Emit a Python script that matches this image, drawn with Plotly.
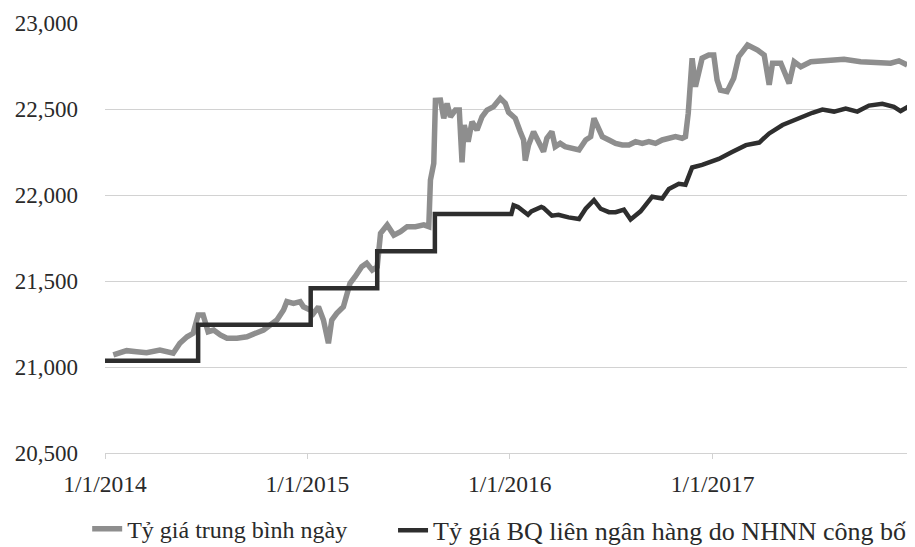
import plotly.graph_objects as go

# ---- data ----
avg_dates = [
    "2014-01-16", "2014-01-28", "2014-02-09", "2014-02-27", "2014-03-17", "2014-04-10",
    "2014-04-22", "2014-05-04", "2014-05-16", "2014-05-29", "2014-06-09", "2014-06-18",
    "2014-06-27", "2014-07-06", "2014-07-16", "2014-07-28", "2014-08-09", "2014-08-27",
    "2014-09-14", "2014-10-02", "2014-10-14", "2014-10-26", "2014-11-07", "2014-11-19",
    "2014-11-25", "2014-12-07", "2014-12-19", "2014-12-25", "2015-01-01", "2015-01-07",
    "2015-01-12", "2015-01-21", "2015-01-30", "2015-02-08", "2015-02-14", "2015-02-23",
    "2015-03-07", "2015-03-13", "2015-03-19", "2015-03-28", "2015-04-09", "2015-04-18",
    "2015-04-28", "2015-05-07", "2015-05-13", "2015-05-25", "2015-06-06", "2015-06-18",
    "2015-06-30", "2015-07-15", "2015-07-30", "2015-08-08", "2015-08-11", "2015-08-17",
    "2015-08-20", "2015-08-29", "2015-09-04", "2015-09-10", "2015-09-16", "2015-09-25",
    "2015-10-02", "2015-10-07", "2015-10-11", "2015-10-18", "2015-10-25", "2015-11-03",
    "2015-11-12", "2015-11-21", "2015-12-03", "2015-12-15", "2015-12-24", "2015-12-30",
    "2016-01-11", "2016-01-20", "2016-01-26", "2016-01-29", "2016-02-04", "2016-02-13",
    "2016-02-22", "2016-03-02", "2016-03-08", "2016-03-17", "2016-03-23", "2016-04-01",
    "2016-04-10", "2016-04-23", "2016-05-05", "2016-05-17", "2016-05-26", "2016-06-01",
    "2016-06-07", "2016-06-16", "2016-06-28", "2016-07-10", "2016-07-22", "2016-08-03",
    "2016-08-15", "2016-08-27", "2016-09-08", "2016-09-20", "2016-10-02", "2016-10-14",
    "2016-10-26", "2016-11-07", "2016-11-13", "2016-11-18", "2016-11-22", "2016-11-25",
    "2016-12-01", "2016-12-13", "2016-12-25", "2017-01-03", "2017-01-09", "2017-01-15",
    "2017-01-27", "2017-02-08", "2017-02-17", "2017-03-05", "2017-03-23", "2017-04-04",
    "2017-04-13", "2017-04-19", "2017-05-04", "2017-05-19", "2017-05-28", "2017-06-09",
    "2017-06-27", "2017-07-27", "2017-08-26", "2017-09-25", "2017-10-25", "2017-11-18",
    "2017-12-03", "2017-12-18",
]
avg_values = [
    21070, 21080, 21095, 21089, 21083, 21099,
    21089, 21080, 21138, 21176, 21196, 21302,
    21302, 21205, 21215, 21186, 21167, 21167,
    21176, 21196, 21215, 21244, 21273, 21331,
    21380, 21370, 21380, 21350, 21340, 21330,
    21312, 21350, 21273, 21138, 21273, 21312,
    21350, 21409, 21487, 21525, 21583, 21603,
    21564, 21583, 21777, 21826, 21767, 21787,
    21816, 21816, 21826, 21816, 22087, 22184,
    22550, 22552, 22446, 22533, 22455, 22494,
    22494, 22190, 22407, 22310, 22426, 22378,
    22455, 22494, 22514, 22562, 22533, 22480,
    22446, 22368, 22320, 22200, 22291, 22368,
    22310, 22252, 22330, 22368, 22281, 22300,
    22281, 22271, 22262, 22320, 22339, 22446,
    22397, 22339, 22320, 22300, 22291, 22291,
    22310, 22300, 22310, 22300, 22320, 22330,
    22339, 22330, 22339, 22475, 22610, 22795,
    22630, 22795, 22814, 22814, 22669, 22610,
    22601, 22679, 22804, 22872, 22843, 22814,
    22640, 22766, 22766, 22649, 22775, 22746,
    22775, 22785, 22789, 22775, 22766, 22766,
    22780, 22756,
]

sbv_dates = [
    "2014-01-01", "2014-06-18", "2014-06-18", "2015-01-07", "2015-01-07", "2015-05-07",
    "2015-05-07", "2015-08-19", "2015-08-19", "2016-01-04", "2016-01-08", "2016-01-16",
    "2016-02-03", "2016-02-09", "2016-02-27", "2016-03-02", "2016-03-17", "2016-03-29",
    "2016-04-16", "2016-05-05", "2016-05-17", "2016-06-01", "2016-06-13", "2016-06-28",
    "2016-07-10", "2016-07-25", "2016-08-06", "2016-08-24", "2016-09-14", "2016-10-02",
    "2016-10-14", "2016-11-01", "2016-11-13", "2016-11-25", "2016-12-13", "2016-12-25",
    "2017-01-12", "2017-02-05", "2017-03-02", "2017-03-26", "2017-04-13", "2017-05-07",
    "2017-06-06", "2017-06-30", "2017-07-18", "2017-08-08", "2017-08-29", "2017-09-19",
    "2017-10-10", "2017-11-03", "2017-11-24", "2017-12-06", "2017-12-18", "2017-12-29",
]
sbv_values = [
    21036, 21036, 21246, 21246, 21458, 21458,
    21673, 21673, 21890, 21890, 21940, 21930,
    21885, 21905, 21930, 21925, 21880, 21885,
    21870, 21860, 21920, 21970, 21920, 21900,
    21900, 21915, 21858, 21905, 21990, 21980,
    22035, 22065, 22060, 22160, 22175, 22190,
    22210, 22250, 22290, 22305, 22358, 22407,
    22450, 22478, 22497, 22485, 22502, 22485,
    22520, 22530, 22512, 22488, 22510, 22475,
]

series_names = ["Tỷ giá trung bình ngày", "Tỷ giá BQ liên ngân hàng do NHNN công bố"]
x_tick_vals = ["2014-01-01", "2015-01-01", "2016-01-01", "2017-01-01"]
x_tick_text = ["1/1/2014", "1/1/2015", "1/1/2016", "1/1/2017"]
y_tick_vals = [20500, 21000, 21500, 22000, 22500, 23000]

FONT = "Liberation Serif"
GRID = "#d2d2d2"
TEXT = "#2a2a2a"

fig = go.Figure()
fig.add_trace(go.Scatter(
    x=avg_dates, y=avg_values, mode="lines", name=series_names[0],
    line=dict(color="#8e8e8e", width=5.5), legend="legend",
))
fig.add_trace(go.Scatter(
    x=sbv_dates, y=sbv_values, mode="lines", name=series_names[1],
    line=dict(color="#2e2e2e", width=4.5), legend="legend2",
))

# page body has an 8px offset, so the figure is 8px smaller and margins shifted
fig.update_layout(
    width=907, height=539,
    margin=dict(l=97, r=0, t=15, b=94, autoexpand=False),
    paper_bgcolor="white", plot_bgcolor="white",
    font=dict(family=FONT, size=22, color=TEXT),
    showlegend=True,
    legend=dict(
        orientation="h", x=-0.022, xanchor="left", y=-0.125, yanchor="top",
        font=dict(family=FONT, size=24, color=TEXT),
        bgcolor="rgba(0,0,0,0)",
    ),
    legend2=dict(
        orientation="h", x=0.3556, xanchor="left", y=-0.125, yanchor="top",
        font=dict(family=FONT, size=26, color=TEXT),
        bgcolor="rgba(0,0,0,0)",
    ),
    xaxis=dict(
        range=["2014-01-01", "2018-01-01"], automargin=False,
        tickvals=x_tick_vals, ticktext=x_tick_text,
        showgrid=False, zeroline=False,
        showline=True, linecolor=GRID, linewidth=1,
        ticks="outside", ticklen=5, tickcolor=GRID, tickwidth=1,
        tickfont=dict(family=FONT, size=23.5, color=TEXT),
        ticklabelstandoff=5,
    ),
    yaxis=dict(
        range=[20500, 23000], automargin=False,
        tickvals=y_tick_vals, tickformat=",",
        showgrid=True, gridcolor=GRID, gridwidth=1,
        zeroline=False, showline=False, ticks="",
        tickfont=dict(family=FONT, size=23, color=TEXT),
        ticklabelstandoff=26,
    ),
)

fig.write_html("out.html")
